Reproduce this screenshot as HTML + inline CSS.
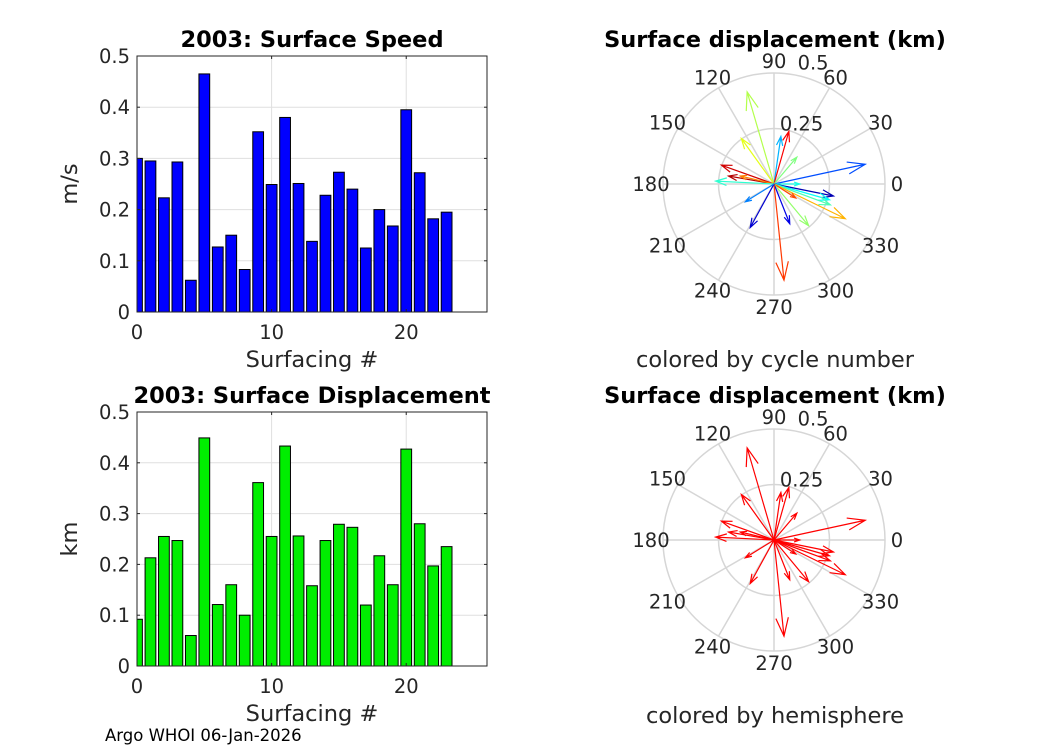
<!DOCTYPE html>
<html><head><meta charset="utf-8"><style>
body{margin:0;background:#fff;}
svg{display:block;font-family:"DejaVu Sans","Liberation Sans",sans-serif;}
.tick{font-size:19.5px;fill:#262626;}
.title{font-size:22.5px;font-weight:bold;fill:#000;}
.lab{font-size:22.5px;fill:#262626;}
</style></head><body>
<svg id="fig" width="1050" height="750" viewBox="0 0 1050 750">
<rect width="1050" height="750" fill="#fff"/>
<g id="g1"></g>
<g id="g2"></g>
<g id="p1"></g>
<g id="p2"></g>
<text x="105" y="741" font-size="16.5" fill="#000">Argo WHOI 06-Jan-2026</text>
</svg>
<script>
const surfacing = [0,1,2,3,4,5,6,7,8,9,10,11,12,13,14,15,16,17,18,19,20,21,22,23];
const speedValues = [0.30,0.295,0.223,0.293,0.062,0.465,0.127,0.15,0.083,0.352,0.249,0.38,0.251,0.138,0.228,0.273,0.24,0.125,0.2,0.168,0.395,0.272,0.182,0.195];
const dispValues = [0.092,0.213,0.255,0.247,0.06,0.449,0.121,0.16,0.1,0.361,0.255,0.433,0.256,0.158,0.247,0.279,0.273,0.12,0.217,0.16,0.427,0.28,0.197,0.235];
const xTicks = [0,10,20];
const yTicks = [0,0.1,0.2,0.3,0.4,0.5];
// displacement vectors (km): east, north
const dispEast = [-0.121,-0.147,-0.237,-0.205,-0.152,-0.263,0.031,0.067,0.103,0.411,0.116,0.268,0.25,0.254,0.321,0.098,0.156,0.071,0.045,-0.107,-0.129];
const dispNorth = [0.415,0.205,0.085,0.036,0.036,0.013,0.214,0.237,0.121,0.089,0.0,-0.054,-0.071,-0.094,-0.156,-0.063,-0.188,-0.179,-0.433,-0.196,-0.08];
const angleLabels = [0,30,60,90,120,150,180,210,240,270,300,330];
const rTicks = [0.25,0.5];

const NS="http://www.w3.org/2000/svg";
function mk(parent,tag,attrs){const e=document.createElementNS(NS,tag);for(const k in attrs)e.setAttribute(k,attrs[k]);parent.appendChild(e);return e;}

function barChart(g,vals,x0,x1,y0,y1,color,title,ylabel){
  const sx=v=>x0+(v-0)/(26-0)*(x1-x0);
  const sy=v=>y0-(v/0.5)*(y0-y1);
  mk(g,'rect',{x:x0,y:y1,width:x1-x0,height:y0-y1,fill:'#fff'});
  const gr=mk(g,'g',{});
  
  
  xTicks.forEach(t=>mk(gr,'line',{x1:sx(t),x2:sx(t),y1:y1,y2:y0,stroke:'#dfdfdf','stroke-width':1}));
  yTicks.forEach(t=>mk(gr,'line',{x1:x0,x2:x1,y1:sy(t),y2:sy(t),stroke:'#dfdfdf','stroke-width':1}));
  const cid='c'+Math.round(y0);
  const cp=mk(g,'clipPath',{id:cid});mk(cp,'rect',{x:x0,y:y1,width:x1-x0,height:y0-y1});
  const bg=mk(g,'g',{'clip-path':'url(#'+cid+')'});
  const bw=0.8*(x1-x0)/26;
  vals.forEach((v,i)=>{
    const r=mk(bg,'rect',{x:sx(surfacing[i])-bw/2,y:sy(v),width:bw,height:y0-sy(v),fill:color,stroke:'#000','stroke-width':1});
    
    
  });
  mk(g,'rect',{x:x0,y:y1,width:x1-x0,height:y0-y1,fill:'none',stroke:'#262626','stroke-width':1});
  xTicks.forEach(t=>{
    mk(g,'line',{x1:sx(t),x2:sx(t),y1:y0,y2:y0-3,stroke:'#262626'});
    mk(g,'line',{x1:sx(t),x2:sx(t),y1:y1,y2:y1+3,stroke:'#262626'});
    const tx=mk(g,'text',{x:sx(t),y:y0+27,'text-anchor':'middle',class:'tick'});tx.textContent=t;
    
    
  });
  yTicks.forEach(t=>{
    mk(g,'line',{x1:x0,x2:x0+3,y1:sy(t),y2:sy(t),stroke:'#262626'});
    mk(g,'line',{x1:x1,x2:x1-3,y1:sy(t),y2:sy(t),stroke:'#262626'});
    const tx=mk(g,'text',{x:x0-7,y:sy(t)+7,'text-anchor':'end',class:'tick'});tx.textContent=t===0?'0':String(t);
    
    
  });
  const tt=mk(g,'text',{x:(x0+x1)/2,y:y1-9,'text-anchor':'middle',class:'title'});tt.textContent=title;
  
  
  const xl=mk(g,'text',{x:(x0+x1)/2,y:y0+55,'text-anchor':'middle',class:'lab'});xl.textContent='Surfacing #';
  
  
  const yl=mk(g,'text',{x:0,y:0,'text-anchor':'middle',class:'lab',transform:`translate(${x0-60},${(y0+y1)/2}) rotate(-90)`});yl.textContent=ylabel;
  
  
}
barChart(document.getElementById('g1'),speedValues,137,487,312,56,'#0000ff','2003: Surface Speed','m/s');
barChart(document.getElementById('g2'),dispValues,137,487,666,412,'#00ee00','2003: Surface Displacement','km');

function jet(t){
  const r=Math.min(1,Math.max(0,1.5-Math.abs(4*t-3)));
  const g=Math.min(1,Math.max(0,1.5-Math.abs(4*t-2)));
  const b=Math.min(1,Math.max(0,1.5-Math.abs(4*t-1)));
  return `rgb(${Math.round(r*255)},${Math.round(g*255)},${Math.round(b*255)})`;
}
const cycleColorIdx=[0.55,0.6,0.92,0.95,0.75,0.42,0.3,0.88,0.5,0.2,0.4,0.05,0.38,0.45,0.7,0.8,0.52,0.1,0.82,0.08,0.25];

function polar(g,cx,cy,R,title,sub,colorFn){
  const s=R/0.5;
  rTicks.forEach(r=>mk(g,'circle',{cx:cx,cy:cy,r:r*s,fill:'none',stroke:'#d6d6d6','stroke-width':1.5}));
  angleLabels.forEach(a=>{
    const rad=a*Math.PI/180;
    mk(g,'line',{x1:cx,y1:cy,x2:cx+R*Math.cos(rad),y2:cy-R*Math.sin(rad),stroke:'#d6d6d6','stroke-width':1.5});
    const lr=R+12;
    const t=mk(g,'text',{x:cx+lr*Math.cos(rad),y:cy-(R+12)*Math.sin(rad)+7,'text-anchor':'middle',class:'tick',fill:'#000'});
    t.textContent=a;
    
    
  });
  rTicks.forEach(r=>{
    const rad=78*Math.PI/180;
    const t=mk(g,'text',{x:cx+r*s*Math.cos(rad)+16,y:cy-r*s*Math.sin(rad)+(r===0.5?-6:1),'text-anchor':'middle',class:'tick',fill:'#000'});
    t.textContent=String(r);
    
    
  });
  dispEast.forEach((e,i)=>{
    const n=dispNorth[i];
    const x2=cx+e*s,y2=cy-n*s;
    const L=Math.hypot(e,n)*s, ang=Math.atan2(-(n),e);
    const h=Math.max(6,0.2*L), da=0.33;
    const col=colorFn(i);
    const a=mk(g,'path',{d:`M${cx},${cy}L${x2},${y2}M${x2-h*Math.cos(ang-da)},${y2-h*Math.sin(ang-da)}L${x2},${y2}L${x2-h*Math.cos(ang+da)},${y2-h*Math.sin(ang+da)}`,stroke:col,fill:'none','stroke-width':1.2});
    
    
  });
  const tt=mk(g,'text',{x:cx+1,y:cy-137,'text-anchor':'middle',class:'title'});tt.textContent=title;
  
  
  const st=mk(g,'text',{x:cx+1,y:cy+183,'text-anchor':'middle',class:'lab'});st.textContent=sub;
  
  
}
polar(document.getElementById('p1'),774,184,111,'Surface displacement (km)','colored by cycle number',i=>jet(cycleColorIdx[i]));
polar(document.getElementById('p2'),774,540,111,'Surface displacement (km)','colored by hemisphere',i=>'#ff0000');
</script>
</body></html>
